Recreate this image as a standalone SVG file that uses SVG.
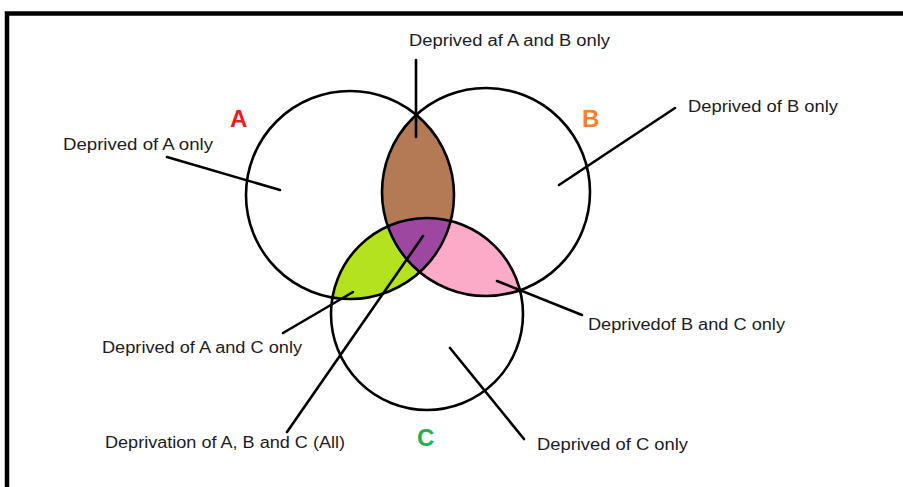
<svg xmlns="http://www.w3.org/2000/svg" width="903" height="487" viewBox="0 0 903 487">
<style>
.lbl{font-family:"Liberation Sans",Arial,sans-serif;font-size:16px;fill:#1b1b24}
.set{font-family:"Liberation Sans",Arial,sans-serif;font-size:24px;font-weight:bold}
.ring{fill:none;stroke:#000;stroke-width:2.6}
.ln{stroke:#000;stroke-width:2.6;stroke-linecap:round}
</style>
<defs>
<clipPath id="cA"><circle cx="350" cy="195" r="104"/></clipPath>
<clipPath id="cB"><circle cx="486" cy="192" r="104"/></clipPath>
<clipPath id="cC"><circle cx="427" cy="314" r="96"/></clipPath>
</defs>
<rect width="903" height="487" fill="#fff"/>
<path d="M7,487 V13.5 H903" fill="none" stroke="#000" stroke-width="4.5"/>
<g id="regions">
<g clip-path="url(#cA)"><circle cx="486" cy="192" r="104" fill="#b47a56"/></g>
<g clip-path="url(#cA)"><circle cx="427" cy="314" r="96" fill="#b5e21f"/></g>
<g clip-path="url(#cB)"><circle cx="427" cy="314" r="96" fill="#fbaac8"/></g>
<g clip-path="url(#cA)"><g clip-path="url(#cB)"><circle cx="427" cy="314" r="96" fill="#9d47a0"/></g></g>
</g>
<g id="A"><circle class="ring" cx="350" cy="195" r="104"/><text class="set" x="230" y="127" fill="#ed1c24">A</text></g>
<g id="B"><circle class="ring" cx="486" cy="192" r="104"/><text class="set" x="582" y="127" fill="#ff7f27">B</text></g>
<g id="C"><circle class="ring" cx="427" cy="314" r="96"/><text class="set" x="417" y="446" fill="#22b14c">C</text></g>
<g id="connectors">
<line class="ln" x1="416" y1="60" x2="416" y2="137"/>
<line class="ln" x1="167" y1="157" x2="280" y2="190"/>
<line class="ln" x1="675" y1="108" x2="559" y2="185"/>
<line class="ln" x1="497" y1="281" x2="582" y2="315"/>
<line class="ln" x1="283" y1="333" x2="353" y2="292"/>
<line class="ln" x1="423" y1="236" x2="287" y2="432"/>
<line class="ln" x1="450" y1="348" x2="524" y2="439"/>
</g>
<g id="labels">
<text class="lbl" x="409" y="46" textLength="201" lengthAdjust="spacingAndGlyphs">Deprived af A and B only</text>
<text class="lbl" x="63" y="150" textLength="150" lengthAdjust="spacingAndGlyphs">Deprived of A only</text>
<text class="lbl" x="688" y="112" textLength="150" lengthAdjust="spacingAndGlyphs">Deprived of B only</text>
<text class="lbl" x="588" y="330" textLength="197" lengthAdjust="spacingAndGlyphs">Deprivedof B and C only</text>
<text class="lbl" x="102" y="353" textLength="200" lengthAdjust="spacingAndGlyphs">Deprived of A and C only</text>
<text class="lbl" x="105" y="448" textLength="240" lengthAdjust="spacingAndGlyphs">Deprivation of A, B and C (All)</text>
<text class="lbl" x="537" y="450" textLength="151" lengthAdjust="spacingAndGlyphs">Deprived of C only</text>
</g>
</svg>
